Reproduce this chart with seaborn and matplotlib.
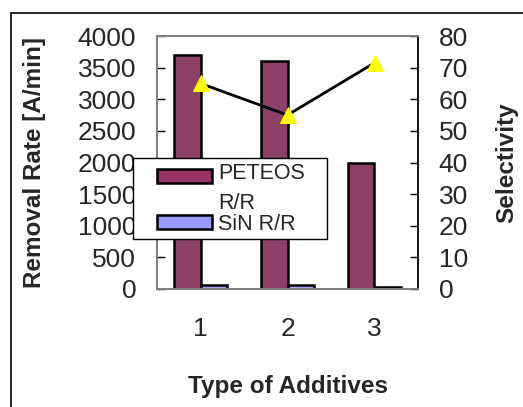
import numpy as np
import pandas as pd
import matplotlib
matplotlib.use("Agg")
import matplotlib.pyplot as plt
from matplotlib.patches import Rectangle, Patch
from matplotlib.legend_handler import HandlerPatch
from matplotlib.ticker import MultipleLocator, FixedLocator
import seaborn as sns

# ---- data ----
additives = ["1", "2", "3"]
peteos_rr = [3700, 3600, 2000]
sin_rr = [57, 65, 28]
selectivity = [65, 55, 71.5]
series_names = ["PETEOS R/R", "SiN R/R"]
legend_labels = ["PETEOS\nR/R", "SiN R/R"]
colors = ["#993366", "#9999FF"]

sns.set_style("white")
plt.rcParams["font.family"] = ["Liberation Sans", "DejaVu Sans"]

df = pd.DataFrame({
    "additive": additives * 2,
    "rate": peteos_rr + sin_rr,
    "series": [series_names[0]] * 3 + [series_names[1]] * 3,
})

W, H = 523, 407
fig = plt.figure(figsize=(W / 100, H / 100), dpi=100)
ax = fig.add_axes([157 / W, 1 - 289 / H, (418 - 157) / W, (289 - 36) / H])

sns.barplot(data=df, x="additive", y="rate", hue="series", order=additives,
            hue_order=series_names, palette=colors, width=0.6, gap=0,
            edgecolor="black", linewidth=1.8, legend=False, ax=ax)

ax2 = ax.twinx()
xpos = np.arange(len(additives))
sns.lineplot(x=xpos, y=selectivity, ax=ax2, color="black", linewidth=2,
             marker="^", markersize=12, markerfacecolor="#FFFF00",
             markeredgecolor="#FFFF00")

ax.set_xlim(-0.5, 2.5)
ax.set_ylim(0, 4000)
ax2.set_ylim(0, 80)
ax.yaxis.set_major_locator(MultipleLocator(500))
ax2.yaxis.set_major_locator(MultipleLocator(10))

ax.set_xticks(xpos)
ax.set_xticklabels(additives)
ax.xaxis.set_minor_locator(FixedLocator([0.5, 1.5]))
ax.tick_params(axis="x", which="major", length=0, pad=20, labelsize=19)
ax.tick_params(axis="x", which="minor", direction="in", length=6, width=1, color="#808080")
ax.tick_params(axis="y", direction="in", length=6, width=1, color="black", pad=15, labelsize=19, left=True)
ax2.tick_params(axis="y", direction="in", length=6, width=1, color="black", pad=15, labelsize=19, right=True)

for sp in ["left", "top", "bottom"]:
    ax2.spines[sp].set_color("#808080")
    ax.spines[sp].set_color("#808080")
ax2.spines["right"].set_color("black")
ax.spines["right"].set_visible(False)
for a in (ax, ax2):
    for sp in a.spines.values():
        sp.set_linewidth(1.3)

ax.set_xlabel("Type of Additives", fontsize=17.5, fontweight="bold")
ax.set_ylabel("Removal Rate [A/min]", fontsize=17.5, fontweight="bold")
ax2.set_ylabel("Selectivity", fontsize=17.5, fontweight="bold")
ax.xaxis.set_label_coords(0.5, (289 - 387) / 253)
ax.xaxis.label.set_verticalalignment("center")
ax.yaxis.set_label_coords((35 - 157) / 261, 0.5)
ax.yaxis.label.set_verticalalignment("center")
ax2.yaxis.set_label_coords((507 - 157) / 261, 0.5)
ax2.yaxis.label.set_verticalalignment("center")

# legend frame and legend
frame = Rectangle((133 / W, 1 - 239 / H), 194 / W, 81 / H, transform=fig.transFigure,
                  facecolor="white", edgecolor="black", linewidth=1, zorder=3)
fig.patches.append(frame)
handles = [Patch(facecolor=c, edgecolor="black", linewidth=1.8) for c in colors]

line_px = 25.0
shift_pt = 0.5 * line_px * 72 / 100


def up_patch(legend, orig_handle, xdescent, ydescent, width, height, fontsize):
    return Rectangle((-xdescent, -ydescent + shift_pt), width, height)


leg = fig.legend(handles, legend_labels, loc="upper left",
                 bbox_to_anchor=(157 / W, 1 - 163 / H), frameon=False, fontsize=15.5,
                 borderpad=0, borderaxespad=0, handlelength=2.55, handleheight=0.6,
                 handletextpad=0.3, labelspacing=0.0,
                 handler_map={handles[0]: HandlerPatch(patch_func=up_patch)})
for t in leg.get_texts():
    t.set_linespacing(1.55)

# outer border
fig.patches.append(Rectangle((11 / W, -0.1), 2, 1.1 - 13 / H, transform=fig.transFigure,
                             facecolor="none", edgecolor="black", linewidth=1.2, zorder=0))

fig.savefig("out.png", dpi=100, facecolor="white")
